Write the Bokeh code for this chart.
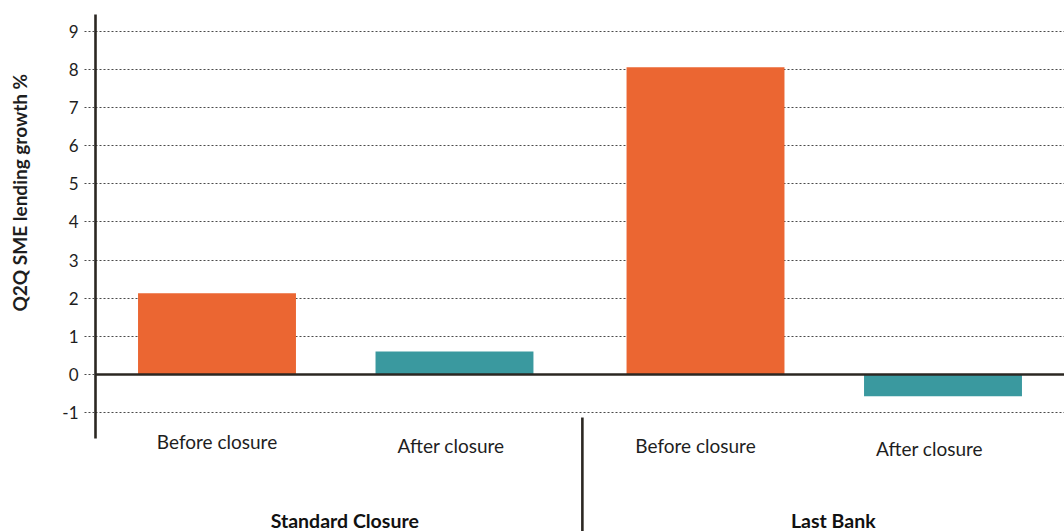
from bokeh.plotting import figure
from bokeh.models import (ColumnDataSource, FactorRange, Range1d, FixedTicker, Span, Title)
from bokeh.transform import factor_cmap
from bokeh.core.properties import value
from bokeh.embed import file_html
from bokeh.resources import INLINE

# Quarter-on-quarter SME lending growth around branch closures
groups = ["Standard Closure", "Last Bank"]
periods = ["Before closure", "After closure"]
growth = [2.13, 0.60, 8.06, -0.57]
y_ticks = [-1, 0, 1, 2, 3, 4, 5, 6, 7, 8, 9]
y_tick_labels = [str(t) for t in y_ticks]

ORANGE = "#EB6632"
TEAL = "#3A999F"
INK = "#2b2722"
FONT = "Lato"

factors = [(g, p) for g in groups for p in periods]
GROUP_PAD = 0.057

x_range = FactorRange(*factors, factor_padding=0.0, group_padding=GROUP_PAD,
                      range_padding=0.0116, range_padding_units="absolute")
y_range = Range1d(-4.12, 9.81)

p = figure(width=1064, height=531, x_range=x_range, y_range=y_range,
           output_backend="svg", toolbar_location=None,
           min_border_left=95, min_border_right=0,
           min_border_top=0, min_border_bottom=0,
           x_axis_location=None)
p.outline_line_color = None
p.background_fill_color = "white"
p.border_fill_color = "white"

# dotted horizontal grid
p.xgrid.visible = False
p.ygrid.ticker = FixedTicker(ticks=y_ticks)
p.ygrid.grid_line_color = "#4a4a4a"
p.ygrid.grid_line_dash = "2 2"
p.ygrid.grid_line_width = 1.2

# left axis: spine limited to the value area, dotted tick stubs
ax = p.yaxis[0]
ax.ticker = FixedTicker(ticks=y_ticks)
ax.major_label_overrides = dict(zip(y_ticks, y_tick_labels))
ax.bounds = (-1.68, 9.45)
ax.axis_line_color = INK
ax.axis_line_width = 2.6
ax.major_tick_out = 11
ax.major_tick_in = 0
ax.major_tick_line_color = "#4a4a4a"
ax.major_tick_line_dash = "2 2"
ax.major_tick_line_width = 1.2
ax.minor_tick_line_color = None
ax.major_label_standoff = 6
ax.major_label_text_font = FONT
ax.major_label_text_font_size = "17px"
ax.major_label_text_color = "#1e1e1e"
# blank axis label keeps a gap between the tick labels and the title
ax.axis_label = " "
ax.axis_label_text_font_size = "10px"
ax.axis_label_standoff = 13

# value-axis title, set a little above the middle of the plot
p.add_layout(Title(text="Q2Q SME lending growth %", text_font=FONT,
                   text_font_style="bold", text_font_size="19px",
                   text_color="#1e1e1e", align="left", offset=220,
                   vertical_align="top", standoff=0), "left")

# bars
src = ColumnDataSource(dict(x=factors, growth=growth))
p.vbar(x="x", top="growth", width=0.665, source=src, line_color=None,
       fill_color=factor_cmap("x", palette=[ORANGE, TEAL], factors=periods,
                              start=1, end=2))

# zero line
p.add_layout(Span(location=0, dimension="width", line_color=INK,
                  line_width=2.6))

# period labels under each bar
label_dx = [0, -3.5, -10, -13.5]
label_dy = [0, 4, 3.5, 7]
lab = ColumnDataSource(dict(x=factors, y=[-1.76] * len(factors),
                            text=[f[1] for f in factors],
                            dx=label_dx, dy=label_dy))
p.text(x="x", y="y", text="text", x_offset="dx", y_offset="dy", source=lab,
       text_align="center", text_baseline="middle",
       text_font=value(FONT), text_font_size="19px", text_color="#1e1e1e")

# group labels
glab = ColumnDataSource(dict(x=groups, y=[-3.83] * len(groups), text=groups))
p.text(x="x", y="y", text="text", x_offset=9, source=glab,
       text_align="center", text_baseline="middle",
       text_font=value(FONT), text_font_style="bold", text_font_size="19.5px",
       text_color="#111111")

# separator between the two groups
sep = ColumnDataSource(dict(x=[("Standard Closure", "After closure", 0.5 + GROUP_PAD / 2 + 0.01)],
                            y0=[-1.13], y1=[-4.2]))
p.segment(x0="x", y0="y0", x1="x", y1="y1", source=sep,
          line_color=INK, line_width=2.6)

open("out.html", "w").write(file_html(p, INLINE))
